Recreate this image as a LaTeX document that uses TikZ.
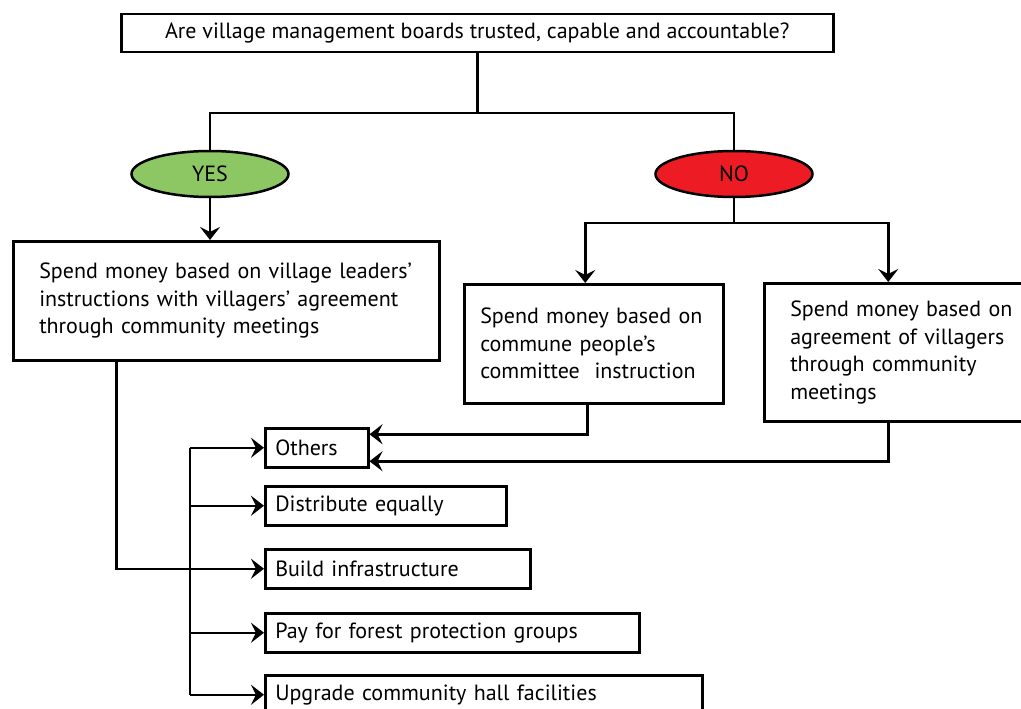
\documentclass[tikz,border=0pt]{standalone}
\usepackage{fontspec}
\setmainfont{PT Sans}
\usetikzlibrary{arrows.meta,shapes.geometric}
\definecolor{yesgreen}{HTML}{8CC763}
\definecolor{nored}{HTML}{ED1C24}

\begin{document}
\begin{tikzpicture}[x=1pt,y=-1pt,line width=2.5pt,
  >={Stealth[length=13pt,width=20pt,inset=5pt]},
  font=\fontsize{22}{27.5}\selectfont,
  box/.style={draw,rectangle,anchor=north west,align=left,inner ysep=0pt},
  opt/.style={box,minimum height=39pt,inner xsep=10pt},
  answer/.style={draw,ellipse,minimum width=157pt,minimum height=46pt,inner sep=0pt}]
\useasboundingbox (0,0) rectangle (1021,709);
% question and the two answers
\node[box,align=center,minimum width=712pt,minimum height=38pt] (quest) at (120,13)
  {Are village management boards trusted, capable and accountable?};
\node[answer,fill=yesgreen] (yes) at (210,174) {YES};
\node[answer,fill=nored] (no) at (734,174) {NO};
% who decides
\node[box,minimum height=119pt,inner xsep=26pt,text width=374pt] (leaders) at (12,240)
  {Spend money based on village leaders’\\instructions with villagers’ agreement\\through community meetings};
\node[box,minimum height=119pt,inner xsep=16pt,text width=227pt] (commune) at (463,283)
  {Spend money based on\\commune people’s\\committee\ \ instruction};
\node[box,minimum height=138pt,inner xsep=26pt,text width=240pt] (villagers) at (763,282)
  {Spend money based on\\agreement of villagers\\through community\\meetings};
% what the money goes to
\node[opt,text width=83pt] (others) at (264,427) {Others};
\node[opt,text width=221pt] (distribute) at (264,485) {Distribute equally};
\node[opt,text width=245pt] (build) at (264,548) {Build infrastructure};
\node[opt,text width=354pt] (pay) at (264,612) {Pay for forest protection groups};
\node[opt,text width=417pt] (upgrade) at (264,674) {Upgrade community hall facilities};
% connectors
\coordinate (split) at (quest.south |- 0,113);
\coordinate (nosplit) at (734,223);
\coordinate (bus) at (190,0);
\draw (quest) -- (split);
\draw (yes) |- (split) -| (no);
\draw[->] (yes) -- (yes |- leaders.north);
\draw (no) -- (nosplit);
\draw[->] (nosplit) -| ([xshift=-8.5pt]commune.north);
\draw[->] (nosplit) -| ([xshift=-22pt]villagers.north);
\draw[->] ([xshift=-6.5pt]commune.south) |- ([yshift=13.5pt]others.east);
\draw[->] ([xshift=-22pt]villagers.south) |- ([yshift=-13.5pt]others.east);
\draw[->] ([xshift=-110pt]leaders.south) |- (build);
\draw (bus |- others) -- (bus |- upgrade);
\foreach \n in {others,distribute,pay,upgrade}
  \draw[->] (bus |- \n) -- (\n);
\end{tikzpicture}
\end{document}
